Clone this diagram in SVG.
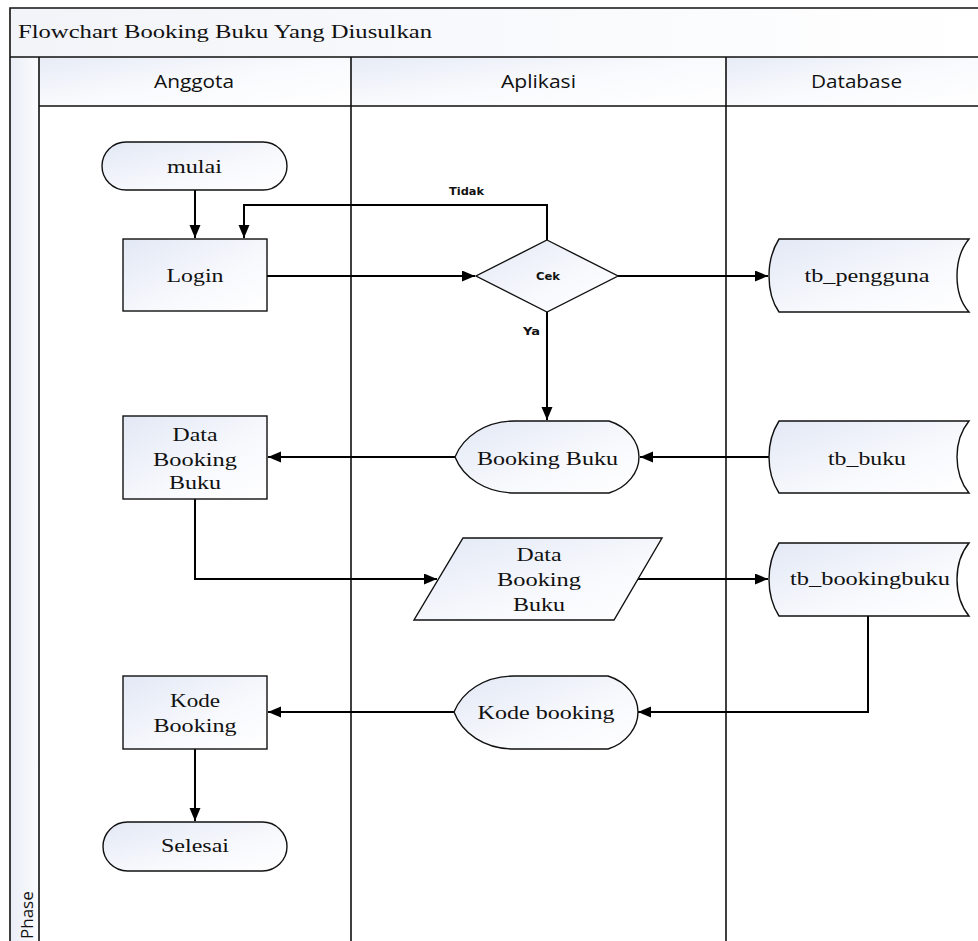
<svg xmlns="http://www.w3.org/2000/svg" width="978" height="941" viewBox="0 0 978 941">
<defs>
<linearGradient id="gNode" x1="0" y1="0" x2="1" y2="1">
<stop offset="0" stop-color="#e2e8f5"/>
<stop offset="0.6" stop-color="#f8f9fd"/>
<stop offset="1" stop-color="#ffffff"/>
</linearGradient>
<linearGradient id="gHead" x1="0" y1="0" x2="1" y2="1">
<stop offset="0" stop-color="#e6ebf6"/>
<stop offset="0.5" stop-color="#f9fafd"/>
<stop offset="1" stop-color="#ffffff"/>
</linearGradient>
<linearGradient id="gTitle" x1="0" y1="0" x2="1" y2="0">
<stop offset="0" stop-color="#f2f4f9"/>
<stop offset="1" stop-color="#ffffff"/>
</linearGradient>
<linearGradient id="gPhase" x1="0" y1="0" x2="1" y2="0">
<stop offset="0" stop-color="#e9edf6"/>
<stop offset="1" stop-color="#fbfcfe"/>
</linearGradient>
<marker id="arr" markerUnits="userSpaceOnUse" markerWidth="14" markerHeight="12" refX="13" refY="5.5" orient="auto">
<path d="M0,0 L13,5.5 L0,11 Z" fill="#000"/>
</marker>
</defs>
<style>
.shape{fill:url(#gNode);stroke:#111;stroke-width:1.4}
.lane{fill:none;stroke:#111;stroke-width:1.6}
.conn{fill:none;stroke:#000;stroke-width:2}
.serif{font-family:"Liberation Serif","Times New Roman",serif;font-size:19px;fill:#111;text-anchor:middle}
.head{font-family:"Open Sans","Noto Sans",sans-serif;font-size:18px;fill:#111;text-anchor:middle}
.lbl{font-family:"DejaVu Sans",sans-serif;font-size:10px;font-weight:bold;fill:#111}
</style>

<g id="pool">
<rect x="10" y="8" width="975" height="49" fill="url(#gTitle)"/>
<rect x="10" y="57" width="29" height="890" fill="url(#gPhase)"/>
<rect x="39" y="57" width="312" height="49" fill="url(#gHead)"/>
<rect x="351" y="57" width="375" height="49" fill="url(#gHead)"/>
<rect x="726" y="57" width="260" height="49" fill="url(#gHead)"/>
<path class="lane" d="M10,945 L10,8 L985,8 M10,57 L985,57 M39,106 L985,106 M39,57 L39,945 M351,57 L351,945 M726,57 L726,945"/>
<text x="18" y="38" font-family="Liberation Serif,serif" font-size="18" fill="#111" textLength="414" lengthAdjust="spacingAndGlyphs">Flowchart Booking Buku Yang Diusulkan</text>
<text class="head" x="194" y="88" textLength="80" lengthAdjust="spacingAndGlyphs">Anggota</text>
<text class="head" x="538.5" y="88" textLength="75" lengthAdjust="spacingAndGlyphs">Aplikasi</text>
<text class="head" x="856.5" y="88" textLength="91" lengthAdjust="spacingAndGlyphs">Database</text>
<text x="0" y="0" transform="translate(33,939) rotate(-90)" font-family="Open Sans,Noto Sans,sans-serif" font-size="17" fill="#111">Phase</text>
</g>

<g id="connectors">
<path class="conn" d="M195,190 L195,238" marker-end="url(#arr)"/>
<path class="conn" d="M547,240 L547,205 L244,205 L244,238" marker-end="url(#arr)"/>
<path class="conn" d="M267,276 L475,276" marker-end="url(#arr)"/>
<path class="conn" d="M618,276 L768,276" marker-end="url(#arr)"/>
<path class="conn" d="M547,312 L547,420" marker-end="url(#arr)"/>
<path class="conn" d="M769,457 L640,457" marker-end="url(#arr)"/>
<path class="conn" d="M455,457 L268,457" marker-end="url(#arr)"/>
<path class="conn" d="M195,499 L195,579 L437,579" marker-end="url(#arr)"/>
<path class="conn" d="M638,579 L768,579" marker-end="url(#arr)"/>
<path class="conn" d="M868,616 L868,712 L638,712" marker-end="url(#arr)"/>
<path class="conn" d="M454,712 L268,712" marker-end="url(#arr)"/>
<path class="conn" d="M195,749 L195,821" marker-end="url(#arr)"/>
<text class="lbl" x="449" y="195" textLength="35" lengthAdjust="spacingAndGlyphs">Tidak</text>
<text class="lbl" x="523" y="335" textLength="17" lengthAdjust="spacingAndGlyphs">Ya</text>
</g>

<g id="mulai">
<rect class="shape" x="102" y="142" width="185" height="48" rx="24" ry="24"/>
<text class="serif" x="194.5" y="173" textLength="55" lengthAdjust="spacingAndGlyphs">mulai</text>
</g>

<g id="login">
<rect class="shape" x="123" y="239" width="144" height="72"/>
<text class="serif" x="195" y="282" textLength="57" lengthAdjust="spacingAndGlyphs">Login</text>
</g>

<g id="cek">
<path class="shape" d="M547,240 L618,276 L547,312 L476,276 Z"/>
<text class="lbl" x="548" y="280" text-anchor="middle" textLength="24" lengthAdjust="spacingAndGlyphs">Cek</text>
</g>

<g id="tb_pengguna">
<path class="shape" d="M779,239 L969,239 C960,250 957,262 957,276 C957,290 960,302 969,312 L779,312 C772,302 769,290 769,276 C769,262 772,250 779,239 Z"/>
<text class="serif" x="867" y="282" textLength="125" lengthAdjust="spacingAndGlyphs">tb_pengguna</text>
</g>

<g id="booking_buku">
<path class="shape" d="M455,457 C463,437 485,421 515,421 L609,421 C628,427 639,442 639,457 C639,472 628,487 609,493 L515,493 C485,493 463,477 455,457 Z"/>
<text class="serif" x="547.5" y="465" textLength="141" lengthAdjust="spacingAndGlyphs">Booking Buku</text>
</g>

<g id="tb_buku">
<path class="shape" d="M779,421 L969,421 C960,432 957,444 957,457 C957,470 960,482 969,493 L779,493 C772,482 769,470 769,457 C769,444 772,432 779,421 Z"/>
<text class="serif" x="867" y="465" textLength="78" lengthAdjust="spacingAndGlyphs">tb_buku</text>
</g>

<g id="data_booking_buku_box">
<rect class="shape" x="123" y="416" width="144" height="83"/>
<text class="serif" x="195" y="441" textLength="45" lengthAdjust="spacingAndGlyphs">Data</text>
<text class="serif" x="195" y="466" textLength="84" lengthAdjust="spacingAndGlyphs">Booking</text>
<text class="serif" x="195" y="489" textLength="52" lengthAdjust="spacingAndGlyphs">Buku</text>
</g>

<g id="data_booking_buku_io">
<path class="shape" d="M463,538 L662,538 L614,620 L414,620 Z"/>
<text class="serif" x="539" y="561" textLength="45" lengthAdjust="spacingAndGlyphs">Data</text>
<text class="serif" x="539" y="586" textLength="84" lengthAdjust="spacingAndGlyphs">Booking</text>
<text class="serif" x="539" y="611" textLength="52" lengthAdjust="spacingAndGlyphs">Buku</text>
</g>

<g id="tb_bookingbuku">
<path class="shape" d="M779,543 L969,543 C960,554 957,566 957,579.5 C957,593 960,605 969,616 L779,616 C772,605 769,593 769,579.5 C769,566 772,554 779,543 Z"/>
<text class="serif" x="870" y="585" textLength="160" lengthAdjust="spacingAndGlyphs">tb_bookingbuku</text>
</g>

<g id="kode_booking_display">
<path class="shape" d="M454,712 C462,692 484,676 514,676 L608,676 C627,682 638,697 638,712 C638,727 627,743 608,749 L514,749 C484,749 462,733 454,712 Z"/>
<text class="serif" x="546" y="719" textLength="137" lengthAdjust="spacingAndGlyphs">Kode booking</text>
</g>

<g id="kode_booking_box">
<rect class="shape" x="123" y="676" width="144" height="73"/>
<text class="serif" x="195" y="707" textLength="50" lengthAdjust="spacingAndGlyphs">Kode</text>
<text class="serif" x="195" y="732" textLength="83" lengthAdjust="spacingAndGlyphs">Booking</text>
</g>

<g id="selesai">
<rect class="shape" x="103" y="822" width="184" height="49" rx="24.5" ry="24.5"/>
<text class="serif" x="195" y="852" textLength="68" lengthAdjust="spacingAndGlyphs">Selesai</text>
</g>
</svg>
